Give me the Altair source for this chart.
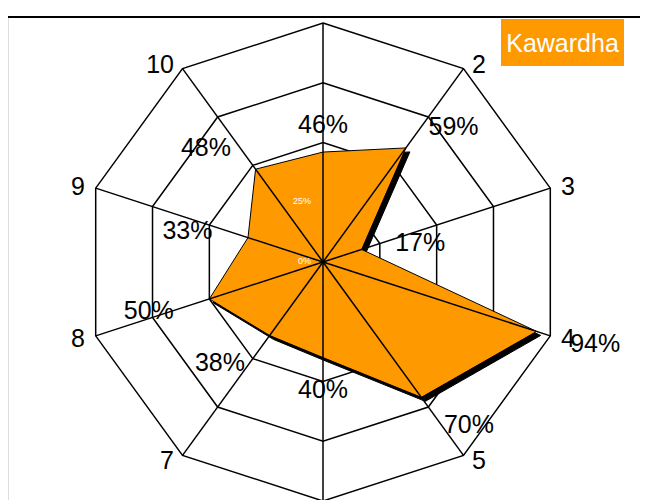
import math
import pandas as pd
import altair as alt

# ---- data ----
AXES = ["1", "2", "3", "4", "5", "6", "7", "8", "9", "10"]
VALUES = [46, 59, 17, 94, 70, 40, 38, 50, 33, 48]
VALUE_LABELS = ["46%", "59%", "17%", "94%", "70%", "40%", "38%", "50%", "33%", "48%"]
RING_LEVELS = [0.25, 0.5, 0.75, 1.0]
TICK_LEVELS = [0.0, 0.25, 0.5, 0.75, 1.0]
TICK_LABELS = ["0%", "25%", "50%", "75%", "100%"]
SERIES = ["Kawardha"]
ORANGE = "#FF9900"

# ---- geometry helpers (polar -> cartesian in data units) ----
R_PX = 239.0
W, H = 632, 483
CX, CY = 315.0, 245.0
XDOM = [-CX / R_PX, (W - CX) / R_PX]
YDOM = [-(H - CY) / R_PX, CY / R_PX]
N = len(AXES)


def ang(i):
    return 2 * math.pi * i / N


def side(i):
    s = math.sin(ang(i))
    return "left" if s > 0.01 else ("right" if s < -0.01 else "center")


rings = pd.DataFrame([
    {"level": lv, "idx": i, "x": lv * math.sin(ang(i)), "y": lv * math.cos(ang(i))}
    for lv in RING_LEVELS for i in range(N)
])
spokes = pd.DataFrame([
    {"axis": a, "x0": 0.0, "y0": 0.0, "x": math.sin(ang(i)), "y": math.cos(ang(i))}
    for i, a in enumerate(AXES)
])
poly = pd.DataFrame([
    {"axis": a, "idx": i, "v": v,
     "x": v / 100 * math.sin(ang(i)), "y": v / 100 * math.cos(ang(i))}
    for i, (a, v) in enumerate(zip(AXES, VALUES))
])
OFF = 30 / R_PX
vlabels = pd.DataFrame([
    {"label": t, "side": side(i),
     "x": (v / 100 + OFF) * math.sin(ang(i)), "y": (v / 100 + OFF) * math.cos(ang(i))}
    for i, (t, v) in enumerate(zip(VALUE_LABELS, VALUES))
])
AOFF = 1 + 6 / R_PX
alabels = pd.DataFrame([
    {"label": a, "side": side(i), "top": math.cos(ang(i)) > 0,
     "x": AOFF * math.sin(ang(i)), "y": AOFF * math.cos(ang(i))}
    for i, a in enumerate(AXES)
])
ticks = pd.DataFrame({"label": TICK_LABELS, "x": [0.0] * len(TICK_LEVELS), "y": TICK_LEVELS})
legend_df = pd.DataFrame({"series": SERIES})

X = alt.X("x:Q", scale=alt.Scale(domain=XDOM, nice=False, zero=False), axis=None)
Y = alt.Y("y:Q", scale=alt.Scale(domain=YDOM, nice=False, zero=False), axis=None)

top_rule = alt.Chart(pd.DataFrame({"a": [0]})).mark_rule(
    color="black", strokeWidth=2
).encode(x=alt.value(0), x2=alt.value(W), y=alt.value(0))

ring_layer = alt.Chart(rings).mark_line(
    interpolate="linear-closed", color="black", strokeWidth=1.5, clip=True
).encode(x=X, y=Y, detail="level:N", order="idx:Q")

shadow = alt.Chart(poly).mark_line(
    interpolate="linear-closed", fill="black", stroke="black", strokeWidth=1,
    xOffset=4, yOffset=4, clip=True
).encode(x=X, y=Y, order="idx:Q")

poly_layer = alt.Chart(poly).mark_line(
    interpolate="linear-closed", fill=ORANGE, stroke="black", strokeWidth=1, clip=True
).encode(x=X, y=Y, order="idx:Q")

spoke_layer = alt.Chart(spokes).mark_rule(
    color="black", strokeWidth=1.5, clip=True
).encode(x=alt.X("x0:Q", scale=alt.Scale(domain=XDOM, nice=False, zero=False), axis=None),
         y=alt.Y("y0:Q", scale=alt.Scale(domain=YDOM, nice=False, zero=False), axis=None),
         x2="x:Q", y2="y:Q")

FONT = "Liberation Sans"
FS = 25


def text_layers(df, dx_left, dx_right, dy, dy_top, dy_bottom):
    layers = []
    for s, dx in (("left", dx_left), ("right", dx_right)):
        sub = df[df["side"] == s]
        layers.append(alt.Chart(sub).mark_text(
            align=s, baseline="middle", dx=dx, dy=dy, fontSize=FS, font=FONT,
            color="black", clip=True
        ).encode(x=X, y=Y, text="label:N"))
    ctr = df[df["side"] == "center"]
    for is_top, d in ((True, dy_top), (False, dy_bottom)):
        sub = ctr[(ctr["y"] > 0) == is_top]
        layers.append(alt.Chart(sub).mark_text(
            align="center", baseline="middle", dy=d, fontSize=FS, font=FONT,
            color="black", clip=True
        ).encode(x=X, y=Y, text="label:N"))
    return layers


val_layers = text_layers(vlabels, 5, -7, 3, 3, 2)
ax_layers = text_layers(alabels, 5, -5, 1, -8, 12)

tick_layer = alt.Chart(ticks).mark_text(
    align="right", baseline="middle", dx=-12, dy=-1, fontSize=9, font=FONT, color="white", clip=True
).encode(x=X, y=Y, text="label:N")

legend_box = alt.Chart(legend_df).mark_rect(color=ORANGE).encode(
    x=alt.value(493), x2=alt.value(616), y=alt.value(2), y2=alt.value(49)
)
legend_text = alt.Chart(legend_df).mark_text(
    align="center", baseline="middle", fontSize=FS, font=FONT, color="white"
).encode(x=alt.value(554.5), y=alt.value(27), text="series:N")

chart = alt.layer(
    ring_layer, shadow, poly_layer, spoke_layer, tick_layer,
    *val_layers, *ax_layers, legend_box, legend_text, top_rule,
).properties(
    width=W, height=H,
    padding={"top": 9, "left": 0, "right": 0, "bottom": 0},
    autosize=alt.AutoSizeParams(type="none"),
).configure_view(stroke=None).configure(font=FONT)

chart.save("out.html", embed_options={"renderer": "svg", "actions": False})
